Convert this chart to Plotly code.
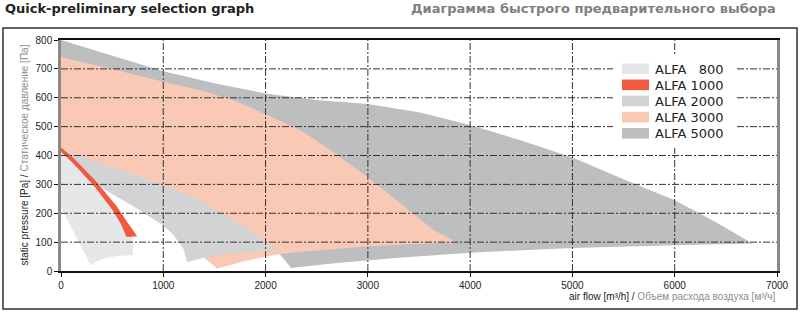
import plotly.graph_objects as go

# ---------------- data ----------------
x_ticks = [0, 1000, 2000, 3000, 4000, 5000, 6000, 7000]
y_ticks = [0, 100, 200, 300, 400, 500, 600, 700, 800]

series_names = ["ALFA\u00a0\u00a0\u00a0800", "ALFA 1000", "ALFA 2000", "ALFA 3000", "ALFA 5000"]
series_colors = ["#e6e7e8", "#f15a3f", "#d1d3d4", "#f9c9b6", "#bcbec0"]

# outlines of the working areas: airflow [m3/h], static pressure [Pa]
alfa5000_x = [0, 500, 1000, 1500, 2000, 2500, 3000, 3500, 4000, 4500, 5000, 5500, 6000, 6400, 6760,
              6000, 5000, 4560, 4000, 3300, 2700, 2250, 2100, 1500, 0]
alfa5000_y = [800, 745, 692, 650, 615, 592, 578, 550, 506, 452, 393, 318, 245, 170, 95,
              89, 80, 73, 63, 46, 28, 10, 75, 300, 740]

alfa3000_x = [0, 500, 1000, 1365, 1700, 2015, 2341, 2650, 2993, 3300, 3641, 3870,
              3500, 3000, 2341, 2080, 1800, 1527, 1350, 1000, 0]
alfa3000_y = [740, 700, 655, 626, 590, 540, 488, 415, 326, 240, 142, 100,
              95, 86, 67, 55, 35, 9, 60, 200, 420]

alfa2000_x = [0, 500, 1000, 1300, 1527, 1800, 2015, 2130,
              1900, 1600, 1400, 1233, 1200, 1100, 1000, 750, 500, 300]
alfa2000_y = [420, 360, 298, 255, 211, 150, 97, 72,
              68, 60, 47, 30, 75, 125, 158, 215, 267, 312]

alfa800_x = [0, 300, 500, 620, 660, 700, 705, 550, 435, 350, 288, 150, 0]
alfa800_y = [422, 318, 235, 165, 120, 120, 55, 52, 45, 33, 21, 118, 220]

alfa1000_x = [0, 120, 340, 550, 650, 745, 640, 590, 505, 330, 120, 0]
alfa1000_y = [428, 392, 312, 222, 168, 120, 118, 160, 210, 292, 372, 413]

outlines = {
    "ALFA 5000": (alfa5000_x, alfa5000_y),
    "ALFA 3000": (alfa3000_x, alfa3000_y),
    "ALFA 2000": (alfa2000_x, alfa2000_y),
    "ALFA\u00a0\u00a0\u00a0800": (alfa800_x, alfa800_y),
    "ALFA 1000": (alfa1000_x, alfa1000_y),
}

# ---------------- figure ----------------
W, H = 800, 313
ML, MR, MT, MB = 61, 23, 40, 42
PW, PH = W - ML - MR, H - MT - MB


def px_x(px):
    return (px - ML) / PW


def px_y(py):
    return (H - MB - py) / PH


color_of = dict(zip(series_names, series_colors))

fig = go.Figure()
for name, (xs, ys) in outlines.items():
    fig.add_trace(go.Scatter(
        x=xs, y=ys, name=name, mode="lines", fill="toself",
        fillcolor=color_of[name], line=dict(width=0, color=color_of[name]),
        showlegend=False, hoverinfo="skip",
    ))

# dash-dot grid drawn above the filled areas
grid_style = dict(color="#333333", width=1, dash="7px, 2px, 2px, 2px")
for v in x_ticks[1:-1]:
    fig.add_shape(type="line", xref="x", yref="y", x0=v, x1=v, y0=y_ticks[0], y1=y_ticks[-1],
                  line=grid_style, layer="above")
for v in y_ticks[1:-1]:
    fig.add_shape(type="line", xref="x", yref="y", x0=x_ticks[0], x1=x_ticks[-1], y0=v, y1=v,
                  line=grid_style, layer="above")

# legend box (white) covering grid
fig.add_shape(type="rect", xref="paper", yref="paper",
              x0=px_x(613), x1=px_x(735), y0=px_y(148), y1=px_y(55),
              fillcolor="white", line=dict(width=0), layer="above")

for i, (name, col) in enumerate(zip(series_names, series_colors)):
    cy = 68.7 + i * 16.15
    fig.add_shape(type="rect", xref="paper", yref="paper",
                  x0=px_x(622), x1=px_x(649), y0=px_y(cy + 5.3), y1=px_y(cy - 5.3),
                  fillcolor=col, line=dict(width=0), layer="above")
    fig.add_annotation(text=name, xref="paper", yref="paper", x=px_x(653), y=px_y(cy + 0.5),
                       xanchor="left", yanchor="middle", showarrow=False,
                       font=dict(family="DejaVu Sans", size=13, color="#222222"))

# outer frame
fig.add_shape(type="rect", xref="paper", yref="paper",
              x0=px_x(3), x1=px_x(797), y0=px_y(309), y1=px_y(28),
              line=dict(color="#333333", width=1.5), fillcolor="rgba(0,0,0,0)", layer="above")

fig.add_annotation(text="<b>Quick-preliminary selection graph</b>", xref="paper", yref="paper",
                   x=px_x(3), y=px_y(8), xanchor="left", yanchor="middle", showarrow=False,
                   font=dict(family="DejaVu Sans", size=13, color="#222222"))
fig.add_annotation(text="<b>Диаграмма быстрого предварительного выбора</b>", xref="paper", yref="paper",
                   x=px_x(778), y=px_y(8), xanchor="right", yanchor="middle", showarrow=False,
                   font=dict(family="DejaVu Sans", size=13, color="#808080"))
fig.add_annotation(text="air flow [m³/h] / <span style='color:#8c8c8c'>Объем расхода воздуха [м³/ч]</span>",
                   xref="paper", yref="paper", x=px_x(778), y=px_y(296), xanchor="right", yanchor="middle",
                   showarrow=False, font=dict(family="Liberation Sans", size=10, color="#1a1a1a"))
fig.add_annotation(text="static pressure [Pa] / <span style='color:#8c8c8c'>Статическое давление [Па]</span>",
                   xref="paper", yref="paper", x=px_x(24), y=0.5, xanchor="center", yanchor="middle",
                   textangle=-90, showarrow=False,
                   font=dict(family="Liberation Sans", size=10, color="#1a1a1a"))

fig.update_layout(
    width=W, height=H,
    margin=dict(l=ML, r=MR, t=MT, b=MB),
    paper_bgcolor="white", plot_bgcolor="white",
    font=dict(family="Liberation Sans", size=10, color="#222222"),
    showlegend=False,
    xaxis=dict(range=[x_ticks[0], x_ticks[-1]], tickvals=x_ticks, showgrid=False, zeroline=False,
               showline=True, linecolor="#111111", linewidth=1.5, mirror=True,
               ticks="outside", ticklen=4, tickcolor="#111111", tickwidth=1,
               tickfont=dict(family="Liberation Sans", size=10, color="#222222"), fixedrange=True),
    yaxis=dict(range=[y_ticks[0], y_ticks[-1]], tickvals=y_ticks, showgrid=False, zeroline=False,
               showline=True, linecolor="#8a8a8a", linewidth=2.5, mirror=True,
               ticks="outside", ticklen=4, tickcolor="#111111", tickwidth=1,
               tickfont=dict(family="Liberation Sans", size=10, color="#222222"), fixedrange=True),
)

fig.write_html("out.html")
